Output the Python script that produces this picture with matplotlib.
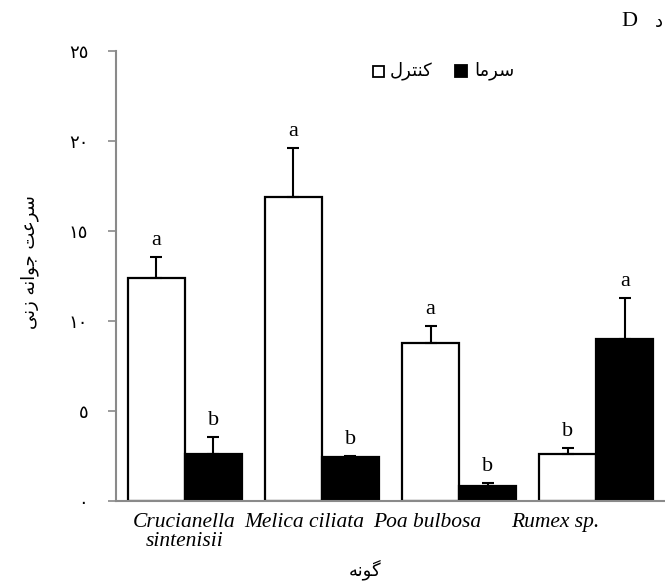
import numpy as np
import matplotlib
matplotlib.use('Agg')
import matplotlib.pyplot as plt
from matplotlib.patches import Rectangle

# data
species = ['Crucianella\nsintenisii', 'Melica ciliata', 'Poa bulbosa', 'Rumex sp.']
control = [12.4, 16.9, 8.8, 2.6]
control_err = [1.15, 2.7, 0.95, 0.35]
cold = [2.6, 2.45, 0.85, 9.0]
cold_err = [0.95, 0.05, 0.15, 2.3]
control_letters = ['a', 'a', 'a', 'b']
cold_letters = ['b', 'b', 'b', 'a']
yticks = [0, 5, 10, 15, 20, 25]
ytick_labels = ['\u0660', '\u0665', '\u0661\u0660', '\u0661\u0665', '\u0662\u0660', '\u0662\u0665']

# persian strings in visual (shaped, left-to-right) order
lbl_control = '\uFEDD\uFEAE\uFE98\uFEE8\uFB90'        # کنترل
lbl_cold = '\uFE8E\uFEE3\uFEAE\uFEB3'                 # سرما
ylabel = '\uFBFD\uFEE7\uFEAF \uFEEA\uFEE7\uFE8D\uFEEE\uFE9F \uFE96\uFECB\uFEAE\uFEB3'  # سرعت جوانه زنی
xlabel = '\uFEEA\uFEE7\uFEEE\uFB94'                   # گونه

fa = ['DejaVu Sans']
serif = 'Liberation Serif'
grey = '#8a8a8a'

fig = plt.figure(figsize=(6.65, 5.85), dpi=100)
ax = fig.add_axes([116/665, 84/585, 549/665, 450/585])

x = np.arange(len(species))
w = 0.415
ax.bar(x - w/2, control, w, color='white', edgecolor='black', lw=1.6, zorder=2)
ax.bar(x + w/2, cold, w, color='black', edgecolor='black', lw=1.6, zorder=2)
ax.errorbar(x - w/2, control, yerr=[np.zeros(4), control_err], fmt='none',
            ecolor='black', elinewidth=1.5, capsize=4.5, capthick=1.5, zorder=3)
ax.errorbar(x + w/2, cold, yerr=[np.zeros(4), cold_err], fmt='none',
            ecolor='black', elinewidth=1.5, capsize=4.5, capthick=1.5, zorder=3)

for i in range(len(species)):
    ax.annotate(control_letters[i], (x[i] - w/2, control[i] + control_err[i]),
                xytext=(0, 5), textcoords='offset points', ha='center', va='bottom',
                family=serif, fontsize=16)
    ax.annotate(cold_letters[i], (x[i] + w/2, cold[i] + cold_err[i]),
                xytext=(0, 5), textcoords='offset points', ha='center', va='bottom',
                family=serif, fontsize=16)

ax.set_xlim(-0.5, 3.5)
ax.set_ylim(0, 25)
ax.set_yticks(yticks)
ax.set_yticklabels(ytick_labels, family=fa, fontsize=13)
ax.tick_params(axis='y', direction='out', length=6, width=1.2, color=grey, pad=14)
ax.set_xticks([])

# species names sit a little left of the group centres in the original
shift = [0.0, -0.13, -0.23, -0.30]
for i in range(len(species)):
    ax.text(x[i] + shift[i], -0.65, species[i], ha='center', va='top',
            family=serif, style='italic', fontsize=15.5, linespacing=1.05)

for s in ['top', 'right']:
    ax.spines[s].set_visible(False)
for s in ['left', 'bottom']:
    ax.spines[s].set_color(grey)
    ax.spines[s].set_linewidth(1.5)
    ax.spines[s].set_zorder(4)

fig.text(30/665, 1 - 262/585, ylabel, rotation=90, ha='center', va='center',
         family=fa, fontsize=13)
fig.text(365/665, 1 - 570/585, xlabel, ha='center', va='center', family=fa, fontsize=13)

# legend drawn by hand to keep the marker-text layout
fig.patches.append(Rectangle((373/665, 1 - 77/585), 11/665, 11/585, transform=fig.transFigure,
                             facecolor='white', edgecolor='black', lw=1.3))
fig.text(390/665, 1 - 71/585, lbl_control, ha='left', va='center', family=fa, fontsize=13)
fig.patches.append(Rectangle((455/665, 1 - 77/585), 12/665, 12/585, transform=fig.transFigure,
                             facecolor='black', edgecolor='black', lw=1.3))
fig.text(474/665, 1 - 71/585, lbl_cold, ha='left', va='center', family=fa, fontsize=13)

fig.text(629/665, 1 - 22/585, 'D', ha='center', va='center', family=serif, fontsize=16)
fig.text(663/665, 1 - 22/585, '\u062F', ha='right', va='center', family=fa, fontsize=13)

fig.savefig('out.png', dpi=100)
